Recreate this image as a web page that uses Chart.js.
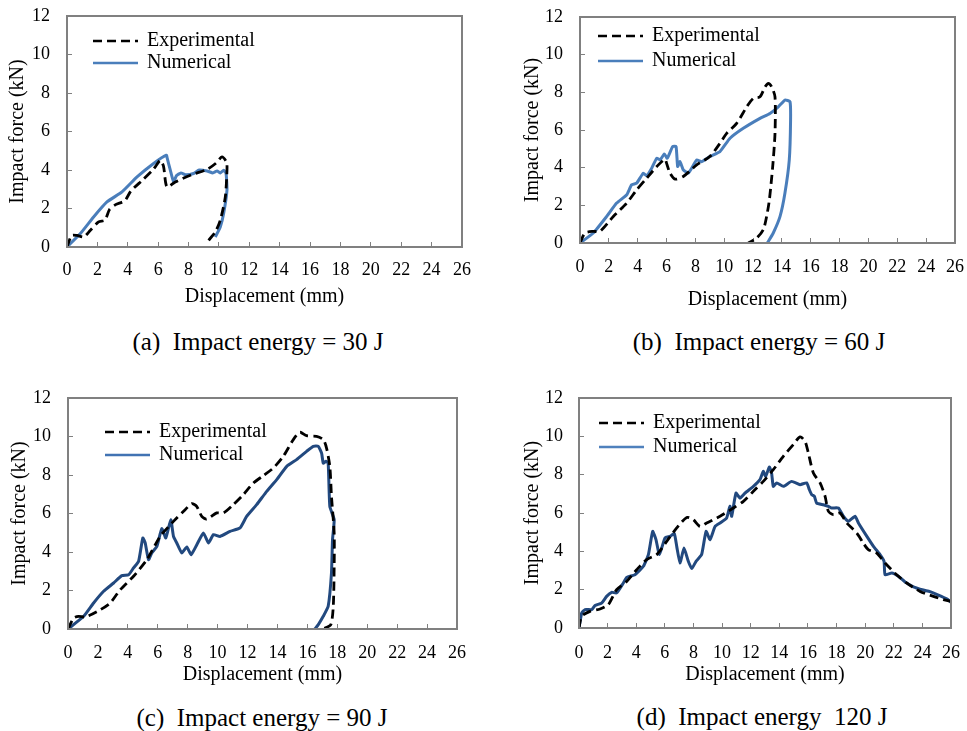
<!DOCTYPE html>
<html>
<head>
<meta charset="utf-8">
<script src="https://cdn.jsdelivr.net/npm/chart.js@4.4.0/dist/chart.umd.min.js"></script>
<style>
  body { margin: 0; background: #fff; }
  #wrap { position: relative; width: 967px; height: 731px; }
  canvas { position: absolute; }
  .cap { position: absolute; font-family: "Liberation Serif", serif; font-size: 25px; color: #000; white-space: pre; transform: translate(-50%, -50%); }
</style>
</head>
<body>
<div id="wrap"></div>
<script>
// force (kN) vs displacement (mm)
var expA = [[0,0],[0.31,0.6],[0.66,0.6],[1.1,0.52],[1.54,0.87],[2.08,1.3],[2.5,1.4],[2.8,1.95],[3.2,2.2],[3.8,2.4],[4.2,2.9],[5,3.5],[5.7,4.05],[6.14,4.5],[6.35,4.2],[6.58,3.12],[7.13,3.38],[8.2,3.75],[9.22,4.03],[9.8,4.35],[10.2,4.68],[10.5,4.4],[10.53,4.0],[10.42,2.6],[10.09,1.39],[9.76,0.78],[9.32,0.35]];
var numA = [[0,0],[0.88,0.7],[1.75,1.56],[2.63,2.34],[3.62,2.86],[4.61,3.64],[5.7,4.34],[6.54,4.77],[6.6,4.6],[6.8,3.99],[7.02,3.38],[7.2,3.7],[7.5,3.85],[7.8,3.75],[8.33,3.82],[8.7,4.0],[9.22,3.95],[9.6,3.85],[9.88,3.95],[10.1,3.85],[10.31,3.99],[10.47,3.82],[10.53,2.95],[10.31,1.74],[10.09,1.04],[9.76,0.52]];
var expB = [[0,0],[0.35,0.53],[0.92,0.62],[1.39,0.62],[2.31,1.41],[3.24,2.12],[3.93,2.82],[4.62,3.44],[5.32,4.06],[5.89,4.45],[6.0,4.24],[6.24,3.71],[6.59,3.39],[7.16,3.53],[8.09,4.15],[9.0,4.59],[9.7,5.29],[10.17,5.82],[10.86,6.35],[11.56,7.23],[12.02,7.68],[12.48,7.76],[12.83,8.29],[13.06,8.47],[13.29,8.29],[13.52,7.76],[13.52,5.82],[13.36,4.06],[13.13,2.29],[12.94,1.41],[12.71,0.71],[12.25,0.26],[11.67,0]];
var numB = [[0,0],[0.92,0.53],[1.85,1.41],[2.54,2.12],[3.24,2.56],[3.58,3.09],[3.93,3.18],[4.39,3.71],[4.62,3.56],[4.97,3.97],[5.32,4.5],[5.55,4.41],[5.85,4.73],[6.05,4.5],[6.42,5.12],[6.66,5.12],[6.77,4.06],[6.93,4.32],[7.16,3.88],[7.51,3.71],[7.74,3.97],[8.09,4.41],[8.44,4.32],[9.0,4.59],[9.7,4.85],[10.4,5.56],[11.32,6.09],[12.48,6.62],[13.17,6.88],[13.75,7.23],[14.21,7.59],[14.56,7.5],[14.6,6.53],[14.51,4.41],[14.21,2.65],[13.87,1.41],[13.4,0.53],[12.99,0]];
var expC = [[0,0],[0.38,0.57],[0.71,0.66],[1.16,0.62],[2.16,1.0],[2.82,1.35],[3.49,2.04],[4.38,2.74],[5.27,3.6],[6.16,4.81],[7.05,5.59],[7.83,6.2],[8.27,6.51],[8.6,6.37],[8.94,5.85],[9.27,5.71],[9.94,6.03],[10.39,6.03],[11.05,6.46],[11.72,6.98],[12.39,7.58],[13.06,7.97],[13.72,8.36],[14.39,8.97],[15.06,9.84],[15.5,10.22],[15.95,10.04],[16.61,10.01],[17.06,9.84],[17.28,9.4],[17.5,8.45],[17.61,6.89],[17.79,4.99],[17.79,3.26],[17.73,1.18],[17.57,0.23],[17.17,0.05],[16.84,0]];
var numC = [[0,0],[1.05,0.66],[1.71,1.35],[2.38,1.96],[3.05,2.39],[3.6,2.77],[4.05,2.82],[4.38,3.17],[4.72,3.52],[5.0,4.73],[5.16,4.47],[5.38,3.6],[5.6,3.95],[5.94,4.29],[6.27,5.21],[6.54,4.73],[6.87,5.68],[7.05,4.81],[7.27,4.47],[7.61,3.95],[7.94,4.26],[8.23,3.86],[8.61,4.38],[9.05,4.99],[9.39,4.47],[9.72,4.9],[10.16,4.81],[10.83,5.07],[11.5,5.25],[11.94,5.85],[12.61,6.46],[13.28,7.15],[13.95,7.76],[14.62,8.45],[15.28,8.8],[15.95,9.23],[16.39,9.49],[16.73,9.49],[16.95,9.14],[17.06,8.62],[17.24,8.71],[17.39,8.62],[17.5,6.37],[17.79,5.68],[17.68,4.64],[17.61,2.91],[17.39,1.18],[17.06,0.66],[16.73,0.23],[16.5,0]];
var expD = [[0,0],[0.19,0.61],[0.77,0.87],[1.47,0.99],[2.05,1.22],[2.63,2.0],[3.33,2.43],[4.03,3.04],[4.73,3.57],[5.43,3.83],[6.13,4.52],[6.83,5.22],[7.53,5.77],[7.99,5.65],[8.46,5.3],[8.92,5.48],[9.86,5.83],[10.79,6.26],[11.49,6.61],[12.19,7.13],[12.88,7.65],[13.58,8.26],[14.28,8.96],[14.98,9.57],[15.45,9.97],[15.8,9.74],[16.03,9.13],[16.38,8.09],[16.85,7.57],[17.2,6.87],[17.43,6.09],[17.78,5.91],[18.24,6.0],[18.71,5.48],[19.41,4.96],[19.87,4.43],[20.22,4.09],[20.81,3.91],[21.39,3.39],[22.2,2.78],[22.9,2.35],[23.84,1.91],[24.77,1.65],[25.47,1.48],[26.0,1.39]];
var numD = [[0,0],[0.19,0.78],[0.42,0.96],[0.89,0.96],[1.12,1.17],[1.58,1.3],[1.93,1.65],[2.28,1.86],[2.63,1.83],[3.1,2.35],[3.33,2.64],[3.91,2.78],[4.5,3.22],[4.85,3.83],[5.15,5.04],[5.38,4.61],[5.62,3.83],[6.01,4.7],[6.36,4.78],[6.66,4.92],[6.83,4.26],[7.06,3.39],[7.34,4.17],[7.64,3.48],[7.88,3.1],[8.18,3.48],[8.57,3.83],[8.88,5.04],[9.16,4.61],[9.51,5.3],[9.86,5.48],[10.32,5.74],[10.55,6.35],[10.67,5.83],[10.97,7.04],[11.25,6.78],[11.6,7.04],[12.19,7.39],[12.65,7.74],[12.88,8.17],[13.05,7.91],[13.3,8.4],[13.46,8.09],[13.58,7.39],[13.82,7.57],[14.28,7.39],[14.86,7.65],[15.45,7.48],[15.91,7.57],[16.1,7.22],[16.26,6.96],[16.45,6.87],[16.61,6.52],[17.08,6.43],[17.43,6.35],[17.66,6.26],[18.13,6.26],[18.48,5.83],[18.83,5.57],[19.3,5.83],[19.53,5.48],[20.12,4.78],[20.58,4.26],[21.04,3.83],[21.32,3.48],[21.39,2.78],[21.86,2.87],[22.32,2.7],[22.79,2.4],[23.37,2.15],[24.07,1.98],[24.53,1.9],[25.12,1.72],[25.7,1.52],[26.0,1.35]];

var seriesNames = ['Experimental', 'Numerical'];
var captions = ['(a)  Impact energy = 30 J', '(b)  Impact energy = 60 J', '(c)  Impact energy = 90 J', '(d)  Impact energy  120 J'];
var xMax = 26, yMax = 12, tickStep = 2;

var serif = '"Liberation Serif", "Times New Roman", serif';

// layout of each panel (pixel geometry only)
var panels = [
  { exp: expA, num: numA, left: 0,   top: 0,   w: 480, h: 309, padTop: 16, padRight: 18, yW: 67,  xH: 62, yTitlePad: 6,  xTickPad: 17, yTickPad: 22, leg: [26, 25, 22], numColor: '#4a7ebb', legColor: '#4a7ebb', cap: [258, 342] },
  { exp: expB, num: numB, left: 480, top: 0,   w: 487, h: 312, padTop: 17, padRight: 12, yW: 100, xH: 69, yTitlePad: 41, xTickPad: 18, yTickPad: 22, leg: [18, 19, 25], numColor: '#4a7ebb', legColor: '#4a7ebb', cap: [759, 342] },
  { exp: expC, num: numC, left: 0,   top: 380, w: 480, h: 307, padTop: 18, padRight: 23, yW: 68,  xH: 58, yTitlePad: 8,  xTickPad: 18, yTickPad: 22, leg: [37, 34, 23], numColor: '#22497f', legColor: '#4173b3', cap: [262, 718] },
  { exp: expD, num: numD, left: 480, top: 380, w: 487, h: 307, padTop: 18, padRight: 16, yW: 99,  xH: 59, yTitlePad: 41, xTickPad: 19, yTickPad: 21, leg: [20, 25, 24], numColor: '#22497f', legColor: '#4f81bd', cap: [762, 717] }
];

// grey box round the plot area + legend inside it
var framePlugin = {
  id: 'frame',
  afterDraw: function(chart, args, opts) {
    var a = chart.chartArea, ctx = chart.ctx;
    ctx.save();
    ctx.strokeStyle = '#808080';
    ctx.lineWidth = 2;
    ctx.strokeRect(a.left, a.top, a.right - a.left, a.bottom - a.top);
    var lg = opts.leg;
    chart.data.datasets.forEach(function(ds, i) {
      var y = a.top + lg[1] + i * lg[2];
      var x0 = a.left + lg[0];
      ctx.beginPath();
      ctx.setLineDash(ds.borderDash || []);
      ctx.strokeStyle = i === 1 ? opts.legColor : ds.borderColor;
      ctx.lineWidth = 2.5;
      ctx.moveTo(x0, y);
      ctx.lineTo(x0 + 45, y);
      ctx.stroke();
      ctx.setLineDash([]);
      ctx.fillStyle = '#000';
      ctx.font = '20px ' + serif;
      ctx.textBaseline = 'middle';
      ctx.fillText(ds.label, x0 + 54, y);
    });
    ctx.restore();
  }
};

var wrap = document.getElementById('wrap');
panels.forEach(function(p, k) {
  var cv = document.createElement('canvas');
  cv.width = p.w; cv.height = p.h;
  cv.style.left = p.left + 'px'; cv.style.top = p.top + 'px';
  wrap.appendChild(cv);

  var cap = document.createElement('div');
  cap.className = 'cap';
  cap.textContent = captions[k];
  cap.style.left = p.cap[0] + 'px'; cap.style.top = p.cap[1] + 'px';
  wrap.appendChild(cap);

  new Chart(cv.getContext('2d'), {
    type: 'scatter',
    data: {
      datasets: [{
        label: seriesNames[0],
        data: p.exp.map(function(d) { return {x: d[0], y: d[1]}; }),
        showLine: true,
        borderColor: '#000',
        borderWidth: 2.8,
        borderDash: [9, 5],
        tension: 0.25,
        pointRadius: 0
      }, {
        label: seriesNames[1],
        data: p.num.map(function(d) { return {x: d[0], y: d[1]}; }),
        showLine: true,
        borderColor: p.numColor,
        borderWidth: 3,
        tension: 0.15,
        pointRadius: 0
      }]
    },
    options: {
      responsive: false,
      animation: false,
      layout: { padding: { top: p.padTop, right: p.padRight, left: 0, bottom: 0 } },
      plugins: {
        legend: { display: false },
        tooltip: { enabled: false },
        frame: { leg: p.leg, legColor: p.legColor }
      },
      scales: {
        x: {
          type: 'linear', min: 0, max: xMax,
          afterFit: function(s) { s.height = p.xH; s.paddingLeft = 0; s.paddingRight = 0; },
          border: { display: false },
          grid: { drawOnChartArea: false, tickLength: -5, color: '#808080' },
          ticks: { stepSize: tickStep, color: '#000', padding: p.xTickPad, maxRotation: 0, font: { family: serif, size: 18 } },
          title: { display: true, text: 'Displacement (mm)', color: '#000', padding: { top: 0, bottom: 0 }, font: { family: serif, size: 20 } }
        },
        y: {
          type: 'linear', min: 0, max: yMax,
          afterFit: function(s) { s.width = p.yW; s.paddingTop = 0; s.paddingBottom = 0; },
          border: { display: false },
          grid: { drawOnChartArea: false, tickLength: -5, color: '#808080' },
          ticks: { stepSize: tickStep, color: '#000', padding: p.yTickPad, font: { family: serif, size: 18 } },
          title: { display: true, text: 'Impact force (kN)', color: '#000', padding: { top: p.yTitlePad, bottom: 0 }, font: { family: serif, size: 20 } }
        }
      }
    },
    plugins: [framePlugin]
  });
});
</script>
</body>
</html>
